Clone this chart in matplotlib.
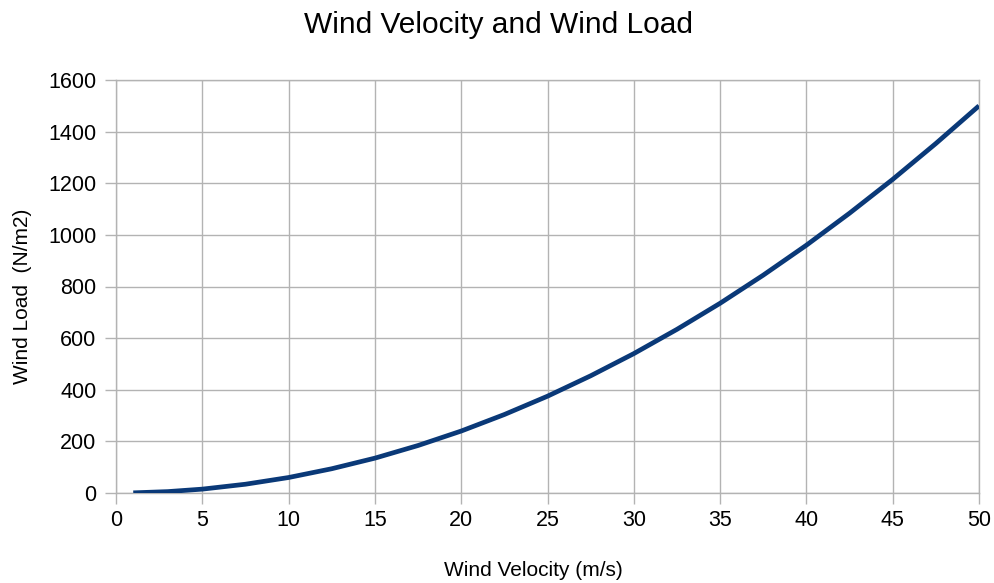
import matplotlib
matplotlib.use("Agg")
import matplotlib.pyplot as plt

plt.rcParams['font.family'] = ['Liberation Sans', 'DejaVu Sans']

velocity = [1, 3, 5, 7.5, 10, 12.5, 15, 17.5, 20, 22.5, 25, 27.5, 30,
            32.5, 35, 37.5, 40, 42.5, 45, 47.5, 50]
load = [0.6, 5.4, 15, 34, 60, 94, 135, 184, 240, 304, 375, 454, 540,
        634, 735, 844, 960, 1084, 1215, 1354, 1500]
x_ticks = [0, 5, 10, 15, 20, 25, 30, 35, 40, 45, 50]
y_ticks = [0, 200, 400, 600, 800, 1000, 1200, 1400, 1600]

W, H = 994, 583
fig = plt.figure(figsize=(W / 100, H / 100), dpi=100)
ax = fig.add_axes([116/W, 1 - 493/H, (979-116)/W, (493-80)/H])

ax.plot(velocity, load, color='#0a3978', linewidth=3.4, solid_capstyle='butt', zorder=3)

ax.set_xlim(0, 50)
ax.set_ylim(0, 1600)
ax.set_xticks(x_ticks)
ax.set_yticks(y_ticks)
ax.grid(True, color='#b3b3b3', linewidth=1.0)
ax.set_axisbelow(True)
for s in ax.spines.values():
    s.set_color('#b3b3b3')
    s.set_linewidth(1.0)
ax.tick_params(axis='both', colors='#b3b3b3', length=8, width=1.0,
               labelcolor='black', labelsize=15.5)
ax.tick_params(axis='x', pad=4)
ax.tick_params(axis='y', pad=6)

fig.text(499/W, 1 - 25/H, 'Wind Velocity and Wind Load', fontsize=21.5,
         ha='center', va='center')
fig.text(533/W, 1 - 570/H, 'Wind Velocity (m/s)', fontsize=15,
         ha='center', va='center')
fig.text(23/W, 1 - 296/H, 'Wind Load  (N/m2)', fontsize=15,
         ha='center', va='center', rotation=90)

fig.savefig('out.png', dpi=100, facecolor='white')
